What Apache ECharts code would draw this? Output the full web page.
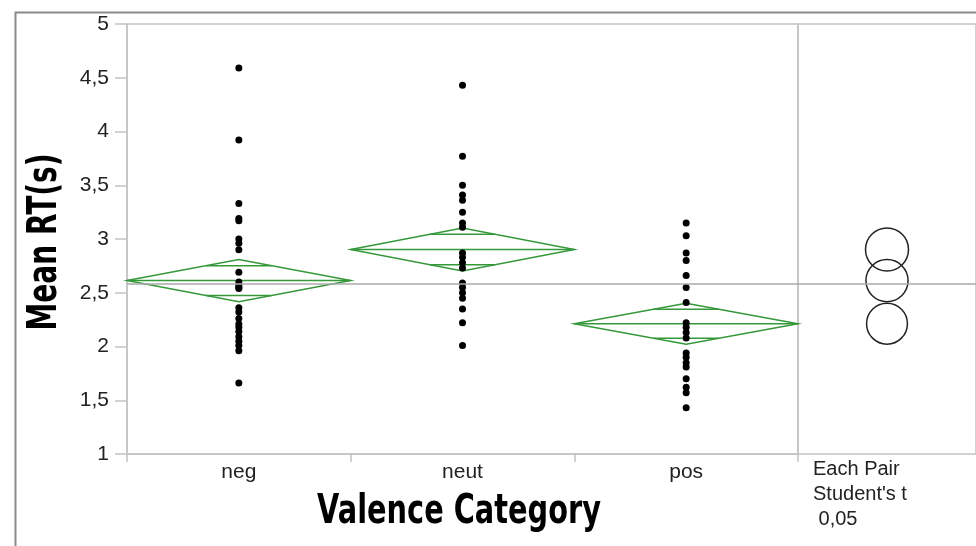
<!DOCTYPE html>
<html>
<head>
<meta charset="utf-8">
<script src="https://cdn.jsdelivr.net/npm/echarts@6/dist/echarts.min.js"></script>
<style>
html,body{margin:0;padding:0;background:#fff;}
#chart{width:976px;height:546px;}
</style>
</head>
<body>
<div id="chart"></div>
<script>
var categories = ['neg', 'neut', 'pos'];
var negRT = [4.59, 3.92, 3.33, 3.19, 3.17, 3.00, 2.96, 2.90, 2.69, 2.60, 2.57, 2.55, 2.54, 2.36, 2.32, 2.26, 2.21, 2.18, 2.14, 2.09, 2.05, 2.01, 1.96, 1.66];
var neutRT = [4.43, 3.77, 3.50, 3.41, 3.36, 3.25, 3.15, 3.11, 2.87, 2.83, 2.78, 2.73, 2.59, 2.55, 2.50, 2.45, 2.35, 2.22, 2.01];
var posRT = [3.15, 3.03, 2.87, 2.80, 2.66, 2.55, 2.41, 2.22, 2.18, 2.13, 2.08, 1.94, 1.90, 1.85, 1.81, 1.70, 1.62, 1.57, 1.43];
var groupMeans = [2.613, 2.902, 2.212];
var ciHalf = [0.196, 0.200, 0.190];
var circleRadius = [0.196, 0.200, 0.190];
var grandMean = 2.576;
var xTitle = 'Valence Category';
var yTitle = 'Mean RT(s)';
var compareLines = ['Each Pair', "Student's t", ' 0,05'];

var groups = [negRT, neutRT, posRT];
var points = [];
groups.forEach(function (arr, i) {
  arr.forEach(function (v) { points.push([i, v]); });
});
var diamondData = categories.map(function (c, i) { return [i, groupMeans[i], ciHalf[i]]; });
var circleData = groupMeans.map(function (m, i) { return [0.5, m, circleRadius[i]]; });

var green = '#35983a';
var axisGray = '#c4c4c4';
var labelFont = '"Liberation Sans", Arial, sans-serif';
var titleFont = 'bold 40px "DejaVu Sans", sans-serif';

function renderDiamond(params, api) {
  var i = api.value(0), m = api.value(1), h = api.value(2);
  var c = api.coord([i, m]);
  var top = api.coord([i, m + h]);
  var bot = api.coord([i, m - h]);
  var bw = api.size([1, 0])[0];
  var hw = bw / 2;
  var H = c[1] - top[1];
  var k = 1 / Math.SQRT2;
  var oy = H * k;
  var ow = hw * (1 - k);
  var st = { stroke: green, lineWidth: 1.5, fill: null };
  return {
    type: 'group',
    children: [
      { type: 'polygon', shape: { points: [[c[0] - hw, c[1]], [c[0], top[1]], [c[0] + hw, c[1]], [c[0], bot[1]]] }, style: st },
      { type: 'line', shape: { x1: c[0] - hw, y1: c[1], x2: c[0] + hw, y2: c[1] }, style: st },
      { type: 'line', shape: { x1: c[0] - ow, y1: c[1] - oy, x2: c[0] + ow, y2: c[1] - oy }, style: st },
      { type: 'line', shape: { x1: c[0] - ow, y1: c[1] + oy, x2: c[0] + ow, y2: c[1] + oy }, style: st }
    ]
  };
}

function renderCircle(params, api) {
  var c = api.coord([api.value(0), api.value(1)]);
  var r = api.size([0, api.value(2)])[1];
  return { type: 'circle', shape: { cx: c[0], cy: c[1], r: r }, style: { stroke: '#222', lineWidth: 1.5, fill: null } };
}

var chart = echarts.init(document.getElementById('chart'), null, { renderer: 'canvas' });
chart.setOption({
  animation: false,
  backgroundColor: '#fff',
  grid: [
    { left: 127, top: 24, width: 671, height: 430, show: true, borderColor: axisGray, borderWidth: 1.5, backgroundColor: 'transparent' },
    { left: 798, top: 24, width: 180, height: 430, show: true, borderColor: axisGray, borderWidth: 1.5, backgroundColor: 'transparent' }
  ],
  xAxis: [
    {
      gridIndex: 0, type: 'category', data: categories,
      axisLine: { lineStyle: { color: axisGray, width: 1.5 } },
      axisTick: { show: true, length: 8, lineStyle: { color: axisGray, width: 1.5 } },
      axisLabel: { color: '#222', fontSize: 21, fontFamily: labelFont, margin: 8 }
    },
    { gridIndex: 1, type: 'value', min: 0, max: 1, show: false }
  ],
  yAxis: [
    {
      gridIndex: 0, type: 'value', min: 1, max: 5, interval: 0.5,
      axisLine: { show: true, lineStyle: { color: axisGray, width: 1.5 } },
      axisTick: { show: true, length: 12, lineStyle: { color: axisGray, width: 1.5 } },
      splitLine: { show: false },
      axisLabel: { color: '#222', fontSize: 21, fontFamily: labelFont, margin: 18,
        formatter: function (v) { return String(v).replace('.', ','); } }
    },
    { gridIndex: 1, type: 'value', min: 1, max: 5, show: false }
  ],
  graphic: [
    { type: 'rect', left: 13, top: 10, shape: { width: 990, height: 535 }, style: { fill: null, stroke: '#8a8a8a', lineWidth: 2 }, silent: true },
    { type: 'text', left: 813, top: 457, style: { text: compareLines.join('\n'), fill: '#222', fontSize: 20, lineHeight: 25, fontFamily: labelFont } },
    { type: 'text', x: 459, y: 513, scaleX: 0.72, style: { text: xTitle, font: titleFont, fill: '#000', align: 'center', verticalAlign: 'middle' } },
    { type: 'text', x: 46, y: 242, rotation: Math.PI / 2, scaleX: 0.70, style: { text: yTitle, font: titleFont, fill: '#000', align: 'center', verticalAlign: 'middle' } }
  ],
  series: [
    {
      type: 'scatter', xAxisIndex: 0, yAxisIndex: 0, data: points, symbolSize: 7,
      itemStyle: { color: '#000', opacity: 1 }, z: 3,
      markLine: { silent: true, symbol: 'none', label: { show: false },
        lineStyle: { color: '#aaa', width: 1.5, type: 'solid' }, data: [{ yAxis: grandMean }] }
    },
    { type: 'custom', xAxisIndex: 0, yAxisIndex: 0, data: diamondData, renderItem: renderDiamond, z: 2 },
    {
      type: 'custom', xAxisIndex: 1, yAxisIndex: 1, data: circleData, renderItem: renderCircle, z: 2,
      markLine: { silent: true, symbol: 'none', label: { show: false },
        lineStyle: { color: '#aaa', width: 1.5, type: 'solid' }, data: [{ yAxis: grandMean }] }
    }
  ]
});
</script>
</body>
</html>
